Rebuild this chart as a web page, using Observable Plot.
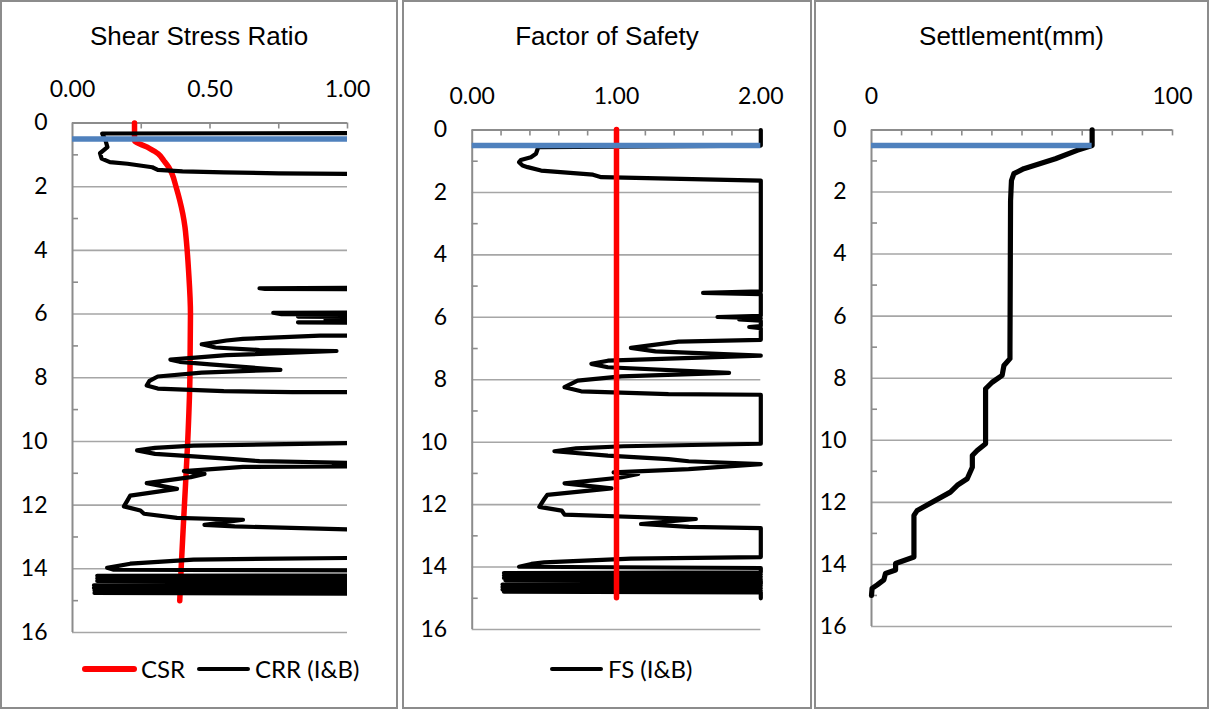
<!DOCTYPE html>
<html><head><meta charset="utf-8">
<script src="https://cdn.jsdelivr.net/npm/d3@7"></script>
<script src="https://cdn.jsdelivr.net/npm/@observablehq/plot@0.6"></script>
<style>
body{margin:0;background:#fff;width:1209px;height:709px;position:relative;overflow:hidden;font-family:Lato,sans-serif;}
.frame{position:absolute;top:0;height:709px;box-sizing:border-box;border:2px solid #8c8c8c;background:transparent;z-index:5;}
.chart{position:absolute;top:0;}
.title{position:absolute;top:23px;font-family:"Liberation Sans",Arial,sans-serif;font-size:26px;line-height:26px;color:#000;white-space:nowrap;transform:translateX(-50%);}
.ltext{position:absolute;top:654px;font-family:Lato,sans-serif;font-size:24px;line-height:29px;color:#000;white-space:nowrap;}
.sw{position:absolute;border-radius:3px;}
</style>
</head><body>
<script>
// ---------- data ----------
const depthTicks = [0, 2, 4, 6, 8, 10, 12, 14, 16];
const depthMinor = [1, 3, 5, 7, 9, 11, 13, 15];
const waterTableDepth = 0.5;

const ssrTicks = [0, 0.5, 1];
const ssrMinor = [0.25, 0.5, 0.75, 1];
const fsTicks = [0, 1, 2];
const fsMinor = [0.2, 0.4, 0.6, 0.8, 1.0, 1.2, 1.4, 1.6, 1.8, 2.0];
const settleTicks = [0, 100];
const settleMinor = [10, 20, 30, 40, 50, 60, 70, 80, 90, 100];
const fsReference = 1.0;

const csrDepth = [0, 0.55, 0.76, 0.97, 1.18, 1.39, 1.6, 2.02, 2.43, 2.85, 3.27, 3.69, 4.63, 6.0, 8.0, 10.0, 12.0, 14.0, 15.0];
const csrValue = [0.2255, 0.2255, 0.272, 0.312, 0.332, 0.35, 0.362, 0.377, 0.39, 0.401, 0.409, 0.414, 0.422, 0.429, 0.427, 0.419, 0.407, 0.395, 0.39];

const crrDepth = [0.30, 0.33, 0.55, 0.76, 0.95, 1.12, 1.23, 1.28, 1.39, 1.47, 1.52, 1.55, 1.58, 1.60, 1.62,
  5.15, 5.19, 5.21, 5.24, 5.92, 5.96, 6.0, 6.04, 6.08, 6.12, 6.18, 6.22, 6.26, 6.30,
  6.62, 6.68, 6.78, 6.83, 6.95, 7.05, 7.13, 7.16, 7.29, 7.43, 7.5, 7.58, 7.75, 7.84, 7.96, 8.1, 8.24, 8.34, 8.42, 8.45, 8.47,
  10.02, 10.05, 10.13, 10.2, 10.28, 10.39, 10.47, 10.54, 10.58, 10.62, 10.67, 10.69, 10.72, 10.75, 10.8, 10.93, 11.02, 11.12,
  11.31, 11.49, 11.7, 11.85, 12.04, 12.17, 12.27, 12.4, 12.46, 12.62, 12.67, 12.76, 12.8,
  13.62, 13.66, 13.71, 13.84, 13.97, 14.03, 14.05, 14.06,
  14.2, 14.22, 14.26, 14.3, 14.34, 14.38, 14.42, 14.5, 14.52, 14.56, 14.6, 14.64, 14.68, 14.72, 14.76, 14.8, 15.0];
const crrValue = [2.0, 0.108, 0.12, 0.127, 0.10, 0.106, 0.136, 0.2, 0.29, 0.31, 0.40, 0.55, 0.75, 1.0, 2.0,
  2.0, 0.68, 0.70, 2.0, 2.0, 0.73, 0.76, 2.0, 0.82, 2.0, 0.92, 2.0, 0.82, 2.0,
  2.0, 0.9, 0.62, 0.56, 0.47, 0.52, 0.68, 0.96, 0.56, 0.356, 0.39, 0.5, 0.756, 0.47, 0.31, 0.28, 0.27, 0.31, 0.55, 0.8, 2.0,
  2.0, 1.0, 0.44, 0.30, 0.235, 0.30, 0.44, 0.56, 0.62, 0.68, 1.0, 2.0, 0.95, 2.0, 0.62, 0.405, 0.48, 0.43,
  0.27, 0.38, 0.21, 0.2, 0.187, 0.247, 0.26, 0.38, 0.62, 0.48, 0.59, 1.0, 2.0,
  2.0, 1.0, 0.44, 0.21, 0.126, 0.15, 1.0, 2.0,
  2.0, 0.09, 2.0, 0.09, 2.0, 0.09, 2.0, 2.0, 0.078, 2.0, 0.078, 2.0, 0.08, 2.0, 0.08, 2.0, 2.0];

const fsDepth = [0, 0.5, 0.55, 0.6, 0.76, 0.87, 0.96, 1.03, 1.14, 1.19, 1.30, 1.43, 1.51, 1.62,
  5.17, 5.22, 5.26, 5.95, 5.99, 6.03, 6.07, 6.11, 6.28, 6.31, 6.35,
  6.72, 6.78, 6.98, 7.09, 7.23, 7.39, 7.49, 7.6, 7.78, 7.89, 8.03, 8.24, 8.37, 8.46, 8.48,
  10.05, 10.13, 10.2, 10.29, 10.43, 10.54, 10.61, 10.70, 10.86, 10.97, 11.02, 11.13, 11.32, 11.48, 11.69, 11.82,
  12.07, 12.19, 12.32, 12.46, 12.62, 12.71, 12.75,
  13.68, 13.73, 13.85, 13.9, 13.99, 14.03,
  14.17, 14.19, 14.23, 14.27, 14.31, 14.35, 14.39, 14.42, 14.44,
  14.54, 14.56, 14.6, 14.64, 14.68, 14.72, 14.76, 14.79, 14.81, 15.0];
const fsValue = [2.0, 2.0, 0.46, 0.454, 0.442, 0.407, 0.337, 0.325, 0.349, 0.384, 0.477, 0.837, 0.895, 2.0,
  2.0, 1.60, 2.0, 2.0, 1.70, 2.0, 1.85, 2.0, 2.0, 1.92, 2.0,
  2.0, 1.43, 1.10, 1.27, 2.0, 0.94, 0.826, 0.94, 1.78, 1.035, 0.73, 0.64, 0.755, 1.36, 2.0,
  2.0, 1.05, 0.72, 0.57, 0.94, 1.36, 1.50, 2.0, 1.50, 0.98, 1.15, 1.03, 0.64, 0.965, 0.52, 0.50,
  0.465, 0.62, 0.64, 1.55, 1.17, 1.50, 2.0,
  2.0, 1.1, 0.5, 0.41, 0.325, 2.0,
  2.0, 0.22, 2.0, 0.22, 2.0, 0.22, 2.0, 0.23, 2.0,
  2.0, 0.21, 2.0, 0.21, 2.0, 0.21, 2.0, 0.22, 2.0, 2.0];

const settleDepth = [0, 0.5, 0.66, 0.93, 1.25, 1.41, 1.63, 2.28, 7.1, 7.37, 7.59, 7.91, 8.13, 8.34, 10.11, 10.33, 10.49, 10.87, 11.24, 11.45, 11.67, 12.26, 12.42, 13.76, 13.97, 14.18, 14.29, 14.5, 14.66, 14.77, 15.0];
const settleValue = [73.3, 73.3, 68.3, 61.1, 50.6, 47.3, 46.5, 46.2, 46.0, 46.0, 44.0, 43.4, 40.1, 37.9, 37.9, 35.1, 33.5, 33.5, 31.8, 28.5, 26.2, 15.2, 14.1, 14.1, 8.0, 8.0, 4.65, 4.1, 1.9, 0.2, 0];

// ---------- helpers ----------
const zip = (ds, vs) => ds.map((d, i) => ({depth: d, value: vs[i]}));
const csr = zip(csrDepth, csrValue);
const crr = zip(crrDepth, crrValue);
const fs = zip(fsDepth, fsValue);
const settle = zip(settleDepth, settleValue);

const RED = "#ff0000", BLUE = "#4f81bd", BLACK = "#000000";
const GRID = "#a6a6a6", AXIS = "#8c8c8c";
const H = 709;
const BW = 4.2;

function panel(cfg) {
  const innerW = cfg.width - cfg.ml - cfg.mr;
  const innerH = H - cfg.mt - cfg.mb;
  const svg = Plot.plot({
    width: cfg.width, height: H,
    marginLeft: cfg.ml, marginRight: cfg.mr, marginTop: cfg.mt, marginBottom: cfg.mb,
    x: {domain: cfg.xDomain, axis: null, label: null},
    y: {domain: [0, 16], reverse: true, axis: null, label: null},
    style: {fontFamily: "Lato, sans-serif", fontSize: "23px", color: "#000", background: "none", overflow: "visible"},
    marks: [
      Plot.ruleY(depthTicks.slice(1), {stroke: GRID, strokeWidth: 1.6}),
      Plot.ruleY(depthMinor, {stroke: AXIS, strokeWidth: 1.6, insetRight: innerW - 6}),
      Plot.ruleX(cfg.xMinor, {stroke: AXIS, strokeWidth: 1.6, insetBottom: innerH - 6}),
      Plot.ruleY([0], {stroke: AXIS, strokeWidth: 2}),
      Plot.ruleX([cfg.xDomain[0]], {stroke: AXIS, strokeWidth: 2}),
      Plot.axisX(cfg.xTicks, {anchor: "top", tickSize: 0, tickPadding: 26, tickFormat: cfg.fmt, fontSize: 23, label: null}),
      Plot.axisY(depthTicks, {anchor: "left", tickSize: 0, tickPadding: 25, fontSize: 23, label: null}),
      ...cfg.marks
    ]
  });
  svg.classList.add("chart");
  svg.style.left = cfg.left + "px";
  document.body.appendChild(svg);
  const fr = document.createElement("div");
  fr.className = "frame";
  fr.style.left = cfg.left + "px";
  fr.style.width = cfg.width + "px";
  document.body.appendChild(fr);
  const t = document.createElement("div");
  t.className = "title";
  t.textContent = cfg.title;
  t.style.left = (cfg.left + cfg.width / 2) + "px";
  document.body.appendChild(t);
}

function swatch(x, w, color, thick) {
  const s = document.createElement("div");
  s.className = "sw";
  s.style.left = x + "px";
  s.style.width = w + "px";
  s.style.top = (669 - thick / 2) + "px";
  s.style.height = thick + "px";
  s.style.background = color;
  document.body.appendChild(s);
}
function ltext(x, str) {
  const s = document.createElement("div");
  s.className = "ltext";
  s.style.left = x + "px";
  s.textContent = str;
  document.body.appendChild(s);
}

const f2 = d3.format(".2f");

panel({
  left: 0, width: 398, ml: 72, mr: 51, mt: 122.5, mb: 77,
  xDomain: [0, 1], xTicks: ssrTicks, xMinor: ssrMinor, fmt: f2,
  title: "Shear Stress Ratio",
  marks: [
    Plot.line(csr, {x: "value", y: "depth", stroke: RED, strokeWidth: 5.5, curve: "monotone-y", strokeLinecap: "round"}),
    Plot.line(crr, {x: "value", y: "depth", stroke: BLACK, strokeWidth: BW, strokeLinejoin: "round", strokeLinecap: "round", clip: true}),
    Plot.ruleY([waterTableDepth], {x1: ssrTicks[0], x2: ssrTicks[ssrTicks.length - 1], stroke: BLUE, strokeWidth: 5.5})
  ]
});

panel({
  left: 402, width: 410, ml: 69.7, mr: 51.7, mt: 129.5, mb: 80,
  xDomain: [0, 2], xTicks: fsTicks, xMinor: fsMinor, fmt: f2,
  title: "Factor of Safety",
  marks: [
    Plot.line(fs, {x: "value", y: "depth", stroke: BLACK, strokeWidth: BW, strokeLinejoin: "round", strokeLinecap: "round"}),
    Plot.ruleX([fsReference], {y1: 0, y2: csrDepth[csrDepth.length - 1], stroke: RED, strokeWidth: 5.5, strokeLinecap: "round"}),
    Plot.ruleY([waterTableDepth], {x1: fsTicks[0], x2: fsTicks[fsTicks.length - 1], stroke: BLUE, strokeWidth: 5.5})
  ]
});

panel({
  left: 814, width: 395, ml: 57, mr: 37, mt: 129.4, mb: 83,
  xDomain: [0, 100], xTicks: settleTicks, xMinor: settleMinor, fmt: d3.format("d"),
  title: "Settlement(mm)",
  marks: [
    Plot.line(settle, {x: "value", y: "depth", stroke: BLACK, strokeWidth: 5.2, strokeLinejoin: "round"}),
    Plot.ruleY([waterTableDepth], {x1: 0, x2: settleValue[1], stroke: BLUE, strokeWidth: 5.5})
  ]
});

// legends
swatch(82, 55, RED, 5.5);
ltext(141, "CSR");
swatch(197, 53, BLACK, BW);
ltext(255, "CRR (I&B)");
swatch(550, 53, BLACK, BW);
ltext(608, "FS (I&B)");
</script>
</body></html>
